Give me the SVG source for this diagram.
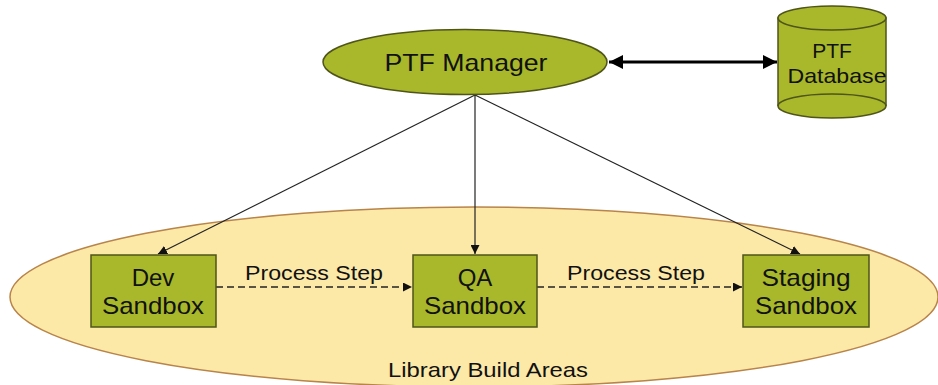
<svg xmlns="http://www.w3.org/2000/svg" width="938" height="385" viewBox="0 0 938 385">
  <style>
    .node { fill: #A8B82A; stroke: #4F5418; stroke-width: 1.5; }
    .lbl { font-family: "Liberation Sans", Arial, sans-serif; fill: #111; text-anchor: middle; }
    .link { stroke: #222; stroke-width: 1.2; fill: none; }
    .step { stroke: #222; stroke-width: 1.3; fill: none; stroke-dasharray: 7 4; }
  </style>
  <defs>
    <marker id="tip" viewBox="0 0 10 10" refX="10" refY="5" markerWidth="9" markerHeight="9" markerUnits="userSpaceOnUse" orient="auto">
      <path d="M0,0 L10,5 L0,10 z" fill="#111"/>
    </marker>
    <marker id="bigtip" viewBox="0 0 10 10" refX="10" refY="5" markerWidth="14" markerHeight="14" markerUnits="userSpaceOnUse" orient="auto-start-reverse">
      <path d="M0,0 L10,5 L0,10 z" fill="#000"/>
    </marker>
  </defs>

  <!-- build area region -->
  <g id="library-build-areas">
    <ellipse cx="474" cy="297" rx="464" ry="90" fill="#FCE9A8" stroke="#B8844A" stroke-width="1.5"/>
    <text class="lbl" x="488" y="377" font-size="21" textLength="200" lengthAdjust="spacingAndGlyphs">Library Build Areas</text>
  </g>

  <!-- connectors -->
  <g id="connectors">
    <line class="link" x1="475" y1="95" x2="158" y2="254" marker-end="url(#tip)"/>
    <line class="link" x1="475" y1="95" x2="475" y2="254" marker-end="url(#tip)"/>
    <line class="link" x1="475" y1="95" x2="800" y2="254" marker-end="url(#tip)"/>
    <line class="step" x1="216" y1="287" x2="412" y2="287" marker-end="url(#tip)"/>
    <line class="step" x1="537" y1="287" x2="742" y2="287" marker-end="url(#tip)"/>
    <line x1="609" y1="62" x2="777" y2="62" stroke="#000" stroke-width="3" marker-start="url(#bigtip)" marker-end="url(#bigtip)"/>
    <text class="lbl" x="314" y="280" font-size="20" textLength="138" lengthAdjust="spacingAndGlyphs">Process Step</text>
    <text class="lbl" x="636" y="280" font-size="20" textLength="138" lengthAdjust="spacingAndGlyphs">Process Step</text>
  </g>

  <g id="ptf-manager">
    <ellipse class="node" cx="465" cy="62" rx="142" ry="32.5"/>
    <text class="lbl" x="466" y="71" font-size="24" textLength="163" lengthAdjust="spacingAndGlyphs">PTF Manager</text>
  </g>

  <g id="ptf-database">
    <path class="node" d="M778,18 L778,106 A54,12 0 0 0 886,106 L886,18 Z"/>
    <ellipse class="node" cx="832" cy="18" rx="54" ry="12"/>
    <path d="M778,106 A54,12 0 0 1 886,106" fill="none" stroke="#4F5418" stroke-width="1.5"/>
    <text class="lbl" x="832" y="58" font-size="21">PTF</text>
    <text class="lbl" x="837" y="83" font-size="21" textLength="99" lengthAdjust="spacingAndGlyphs">Database</text>
  </g>

  <g id="dev-sandbox">
    <rect class="node" x="91" y="255" width="125" height="72"/>
    <text class="lbl" x="153" y="286" font-size="24">Dev</text>
    <text class="lbl" x="153" y="314" font-size="24" textLength="102" lengthAdjust="spacingAndGlyphs">Sandbox</text>
  </g>

  <g id="qa-sandbox">
    <rect class="node" x="413" y="255" width="124" height="72"/>
    <text class="lbl" x="475" y="286" font-size="24">QA</text>
    <text class="lbl" x="475" y="314" font-size="24" textLength="102" lengthAdjust="spacingAndGlyphs">Sandbox</text>
  </g>

  <g id="staging-sandbox">
    <rect class="node" x="743" y="255" width="126" height="72"/>
    <text class="lbl" x="806" y="286" font-size="24" textLength="89" lengthAdjust="spacingAndGlyphs">Staging</text>
    <text class="lbl" x="806" y="314" font-size="24" textLength="102" lengthAdjust="spacingAndGlyphs">Sandbox</text>
  </g>
</svg>
